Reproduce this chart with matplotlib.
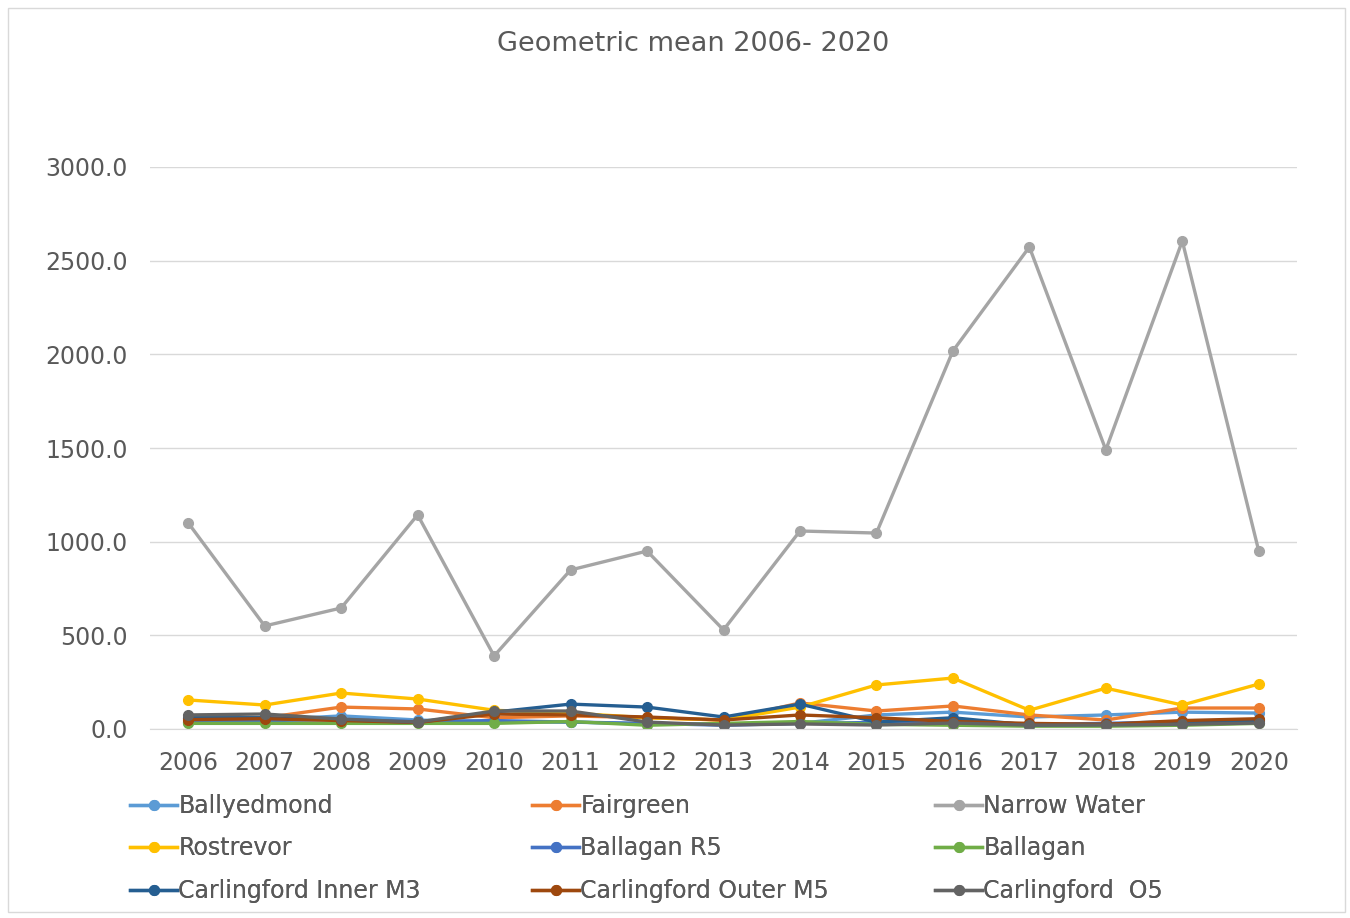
import matplotlib
matplotlib.use("Agg")
import matplotlib.pyplot as plt
from matplotlib.patches import Rectangle

plt.rcParams['font.family'] = ['DejaVu Sans']

years = [str(y) for y in range(2006, 2021)]

ballyedmond = [37, 48, 70, 48, 37, 37, 27, 27, 30, 75, 90, 64, 75, 90, 85]
fairgreen = [60, 60, 117, 107, 60, 70, 60, 48, 139, 96, 123, 75, 48, 112, 112]
narrow_water = [1100, 550, 646, 1143, 390, 849, 950, 529, 1057, 1046, 2018, 2573, 1490, 2605, 950]
rostrevor = [155, 128, 192, 160, 100, 85, 60, 48, 117, 235, 272, 100, 218, 128, 240]
ballagan_r5 = [40, 45, 50, 40, 45, 37, 30, 20, 30, 35, 45, 25, 30, 40, 50]
ballagan = [30, 30, 30, 30, 30, 40, 20, 30, 40, 25, 20, 15, 15, 20, 30]
carl_inner_m3 = [60, 60, 50, 35, 90, 133, 117, 64, 133, 37, 60, 21, 25, 30, 45]
carl_outer_m5 = [50, 55, 45, 35, 80, 75, 64, 48, 75, 60, 40, 30, 25, 45, 55]
carl_o5 = [75, 80, 53, 37, 96, 96, 37, 21, 27, 21, 32, 21, 21, 25, 32]

series = [
    ("Ballyedmond", ballyedmond, "#5B9BD5"),
    ("Fairgreen", fairgreen, "#ED7D31"),
    ("Narrow Water", narrow_water, "#A5A5A5"),
    ("Rostrevor", rostrevor, "#FFC000"),
    ("Ballagan R5", ballagan_r5, "#4472C4"),
    ("Ballagan", ballagan, "#70AD47"),
    ("Carlingford Inner M3", carl_inner_m3, "#255E91"),
    ("Carlingford Outer M5", carl_outer_m5, "#9E480E"),
    ("Carlingford  O5", carl_o5, "#636363"),
]

text_color = "#595959"
fig = plt.figure(figsize=(13.5, 9.18), dpi=100)
fig.patches.append(Rectangle((8 / 1350, 1 - 912 / 918), 1337 / 1350, 904 / 918,
                             transform=fig.transFigure, fill=False,
                             edgecolor="#D9D9D9", linewidth=1.0))

ax = fig.add_axes([150 / 1350, 1 - 729 / 918, 1147 / 1350, 562 / 918])
x = list(range(len(years)))
handles = []
for name, vals, col in series:
    ln, = ax.plot(x, vals, color=col, linewidth=2.4, marker='o', markersize=7,
                  label=name, solid_joinstyle='round')
    handles.append(ln)

ax.set_xlim(-0.5, len(years) - 0.5)
ax.set_ylim(0, 3000)
yt = [0, 500, 1000, 1500, 2000, 2500, 3000]
ax.set_yticks(yt)
ax.set_yticklabels([f"{v:.1f}" for v in yt])
ax.set_xticks(x)
ax.set_xticklabels(years)
ax.tick_params(axis='both', length=0, labelsize=17, labelcolor=text_color)
ax.tick_params(axis='y', pad=16)
ax.tick_params(axis='x', pad=16)
ax.grid(axis='y', color="#D9D9D9", linewidth=1.0)
ax.set_axisbelow(True)
for s in ['top', 'right', 'left']:
    ax.spines[s].set_visible(False)
ax.spines['bottom'].set_color("#D9D9D9")

fig.text(693 / 1350, 1 - 44 / 918, "Geometric mean 2006- 2020", ha='center', va='center',
         fontsize=19.5, color=text_color)

# legend: three columns, row-major order
col_x = [130, 532, 935]
for c in range(3):
    hs = [handles[r * 3 + c] for r in range(3)]
    leg = fig.legend(handles=hs, loc='upper left',
                     bbox_to_anchor=(col_x[c] / 1350, 1 - 794 / 918),
                     frameon=False, fontsize=17, labelcolor=text_color,
                     handlelength=2.0, handletextpad=0.05, labelspacing=0.78,
                     borderaxespad=0, borderpad=0)
    fig.add_artist(leg)

fig.savefig("out.png", dpi=100)
